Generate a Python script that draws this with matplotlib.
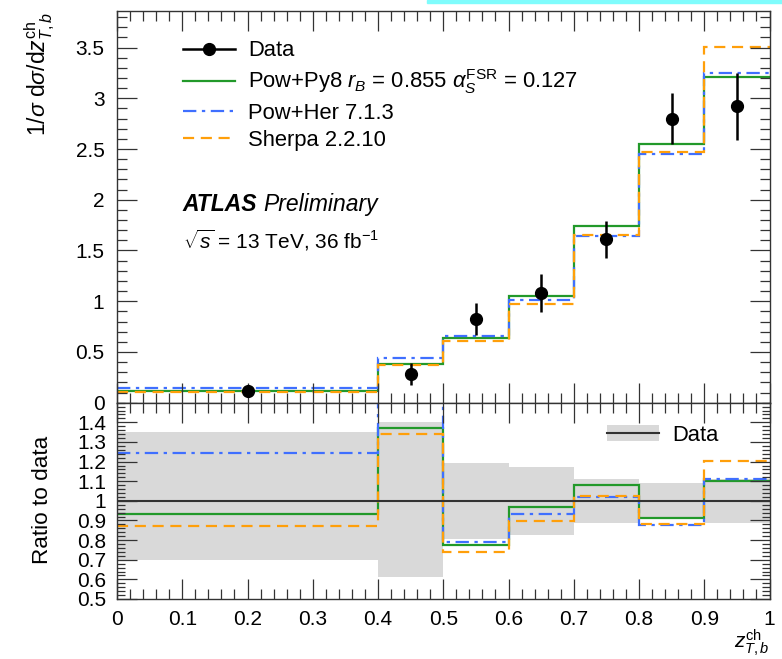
import numpy as np
import matplotlib
matplotlib.use("Agg")
from matplotlib import pyplot as plt
from matplotlib.lines import Line2D
from matplotlib.patches import Patch, Rectangle
from matplotlib.ticker import MultipleLocator, FuncFormatter

plt.rcParams['font.family'] = ['Liberation Sans', 'DejaVu Sans']
plt.rcParams['mathtext.fontset'] = 'custom'
plt.rcParams['mathtext.rm'] = 'Liberation Sans'
plt.rcParams['mathtext.it'] = 'Liberation Sans:italic'
plt.rcParams['mathtext.bf'] = 'Liberation Sans:bold'

# bin edges in z_T,b^ch
edges = [0.0, 0.4, 0.5, 0.6, 0.7, 0.8, 0.9, 1.0]
data_x = [0.2, 0.45, 0.55, 0.65, 0.75, 0.85, 0.95]
data_y = [0.119, 0.28, 0.826, 1.08, 1.61, 2.80, 2.92]
data_err_up = [0.042, 0.112, 0.16, 0.187, 0.18, 0.25, 0.33]
data_err_dn = [0.036, 0.108, 0.16, 0.187, 0.18, 0.25, 0.33]
powpy8 = [0.111, 0.384, 0.64, 1.048, 1.737, 2.55, 3.21]
powher = [0.148, 0.44, 0.654, 1.008, 1.639, 2.45, 3.245]
sherpa = [0.104, 0.375, 0.612, 0.971, 1.652, 2.47, 3.51]

GREEN = '#22992a'
BLUE = '#3f6fff'
ORANGE = '#ff9f0a'
DASHDOT = (0, (6, 2.5, 1.5, 2.5))
DASHED = (0, (5, 3))
FS = 15.8

fig = plt.figure(figsize=(7.82, 6.59), dpi=100)
W, H = 782, 659
x0, x1 = 117, 769.5
ax = fig.add_axes([x0/W, 1-402.7/H, (x1-x0)/W, (402.7-11)/H])
rax = fig.add_axes([x0/W, 1-599/H, (x1-x0)/W, (599-402.7)/H], sharex=ax)

# top panel
ax.stairs(powpy8, edges, baseline=None, color=GREEN, lw=1.6)
ax.stairs(powher, edges, baseline=None, color=BLUE, lw=1.6, ls=DASHDOT)
ax.stairs(sherpa, edges, baseline=None, color=ORANGE, lw=1.6, ls=DASHED)
ax.errorbar(data_x, data_y, yerr=[data_err_dn, data_err_up], fmt='o', color='black',
            ms=8.5, elinewidth=1.8, capsize=0)

ax.set_xlim(0, 1)
ax.set_ylim(0, 3.86)

# ratio panel
d = np.array(data_y)
rax.stairs(1 + np.array(data_err_up)/d, edges, baseline=1 - np.array(data_err_dn)/d,
           fill=True, color='#d9d9d9', lw=0)
rax.axhline(1.0, color='#333333', lw=1.5)
rax.stairs(np.array(powpy8)/d, edges, baseline=None, color=GREEN, lw=1.6)
rax.stairs(np.array(powher)/d, edges, baseline=None, color=BLUE, lw=1.6, ls=DASHDOT)
rax.stairs(np.array(sherpa)/d, edges, baseline=None, color=ORANGE, lw=1.6, ls=DASHED)
rax.set_ylim(0.5, 1.5)
rax.set_xlim(0, 1)

fmt = FuncFormatter(lambda v, p: '%g' % round(v, 3))
for a in (ax, rax):
    a.tick_params(which='both', direction='in', top=True, right=True, colors='#333333', labelcolor='black')
    a.tick_params(which='major', length=14.4, width=0.9, labelsize=15)
    a.tick_params(which='minor', length=7, width=0.9)
    a.xaxis.set_major_locator(MultipleLocator(0.1))
    a.xaxis.set_minor_locator(MultipleLocator(0.02))
    a.xaxis.set_major_formatter(fmt)
    a.yaxis.set_major_formatter(fmt)
    for s in a.spines.values():
        s.set_linewidth(1.0)
        s.set_color('#333333')

ax.yaxis.set_major_locator(MultipleLocator(0.5))
ax.yaxis.set_minor_locator(MultipleLocator(0.1))
ax.tick_params(axis='y', pad=9)
ax.tick_params(axis='x', labelbottom=False)

rax.set_yticks(np.arange(0.5, 1.45, 0.1))
rax.yaxis.set_minor_locator(MultipleLocator(0.02))
rax.tick_params(axis='y', pad=8)
rax.tick_params(axis='y', which='minor', length=6)
rax.tick_params(axis='x', pad=8)

# legends
h_data = Line2D([], [], color='black', marker='o', ms=8.5, lw=1.8)
h_py8 = Line2D([], [], color=GREEN, lw=1.6)
h_her = Line2D([], [], color=BLUE, lw=1.6, ls=DASHDOT)
h_sh = Line2D([], [], color=ORANGE, lw=1.6, ls=DASHED)
labels = ['Data',
          r'Pow+Py8 $r_B$ = 0.855 $\alpha_S^{\mathrm{FSR}}$ = 0.127',
          'Pow+Her 7.1.3',
          'Sherpa 2.2.10']
ax.legend([h_data, h_py8, h_her, h_sh], labels, loc='upper left',
          bbox_to_anchor=(0.101, 0.925), frameon=False, fontsize=FS,
          borderpad=0, borderaxespad=0, handlelength=2.37, handletextpad=0.6,
          labelspacing=0.28)

t = ax.text(0.101, 0.505, 'ATLAS', transform=ax.transAxes, fontsize=16.5,
            va='center', ha='left', fontweight='bold', fontstyle='italic')
ax.annotate('Preliminary', xy=(1, 0.5), xycoords=t, xytext=(4, 0), textcoords='offset points',
            fontsize=16.5, va='center', ha='left', fontstyle='italic')
ax.text(0.101, 0.415, r'$\sqrt{s}$ = 13 TeV, 36 fb$^{-1}$', transform=ax.transAxes,
        fontsize=15, va='center', ha='left')

h_band = (Patch(facecolor='#d9d9d9', edgecolor='none'), Line2D([], [], color='#333333', lw=1.5))
rax.legend([h_band], ['Data'], loc='center left', bbox_to_anchor=(0.751, 0.835),
           frameon=False, fontsize=FS, borderpad=0, borderaxespad=0,
           handlelength=2.37, handletextpad=0.6, handleheight=0.7)

fig.text(40/W, 1-12/H, r'$1/\sigma\ \mathrm{d}\sigma/\mathrm{d}z^{\mathrm{ch}}_{T,b}$',
         rotation=90, ha='center', va='top', fontsize=16.5)
fig.text(43/W, 1-500/H, 'Ratio to data', rotation=90, ha='center', va='center', fontsize=16.2)
fig.text(770/W, 1-648/H, r'$z^{\mathrm{ch}}_{T,b}$', ha='right', va='baseline', fontsize=15)

fig.patches.append(Rectangle((427/W, 1-3/H), 1, 3/H, transform=fig.transFigure,
                             color='#7ffcfc', zorder=5))

fig.savefig('out.png', dpi=100)
